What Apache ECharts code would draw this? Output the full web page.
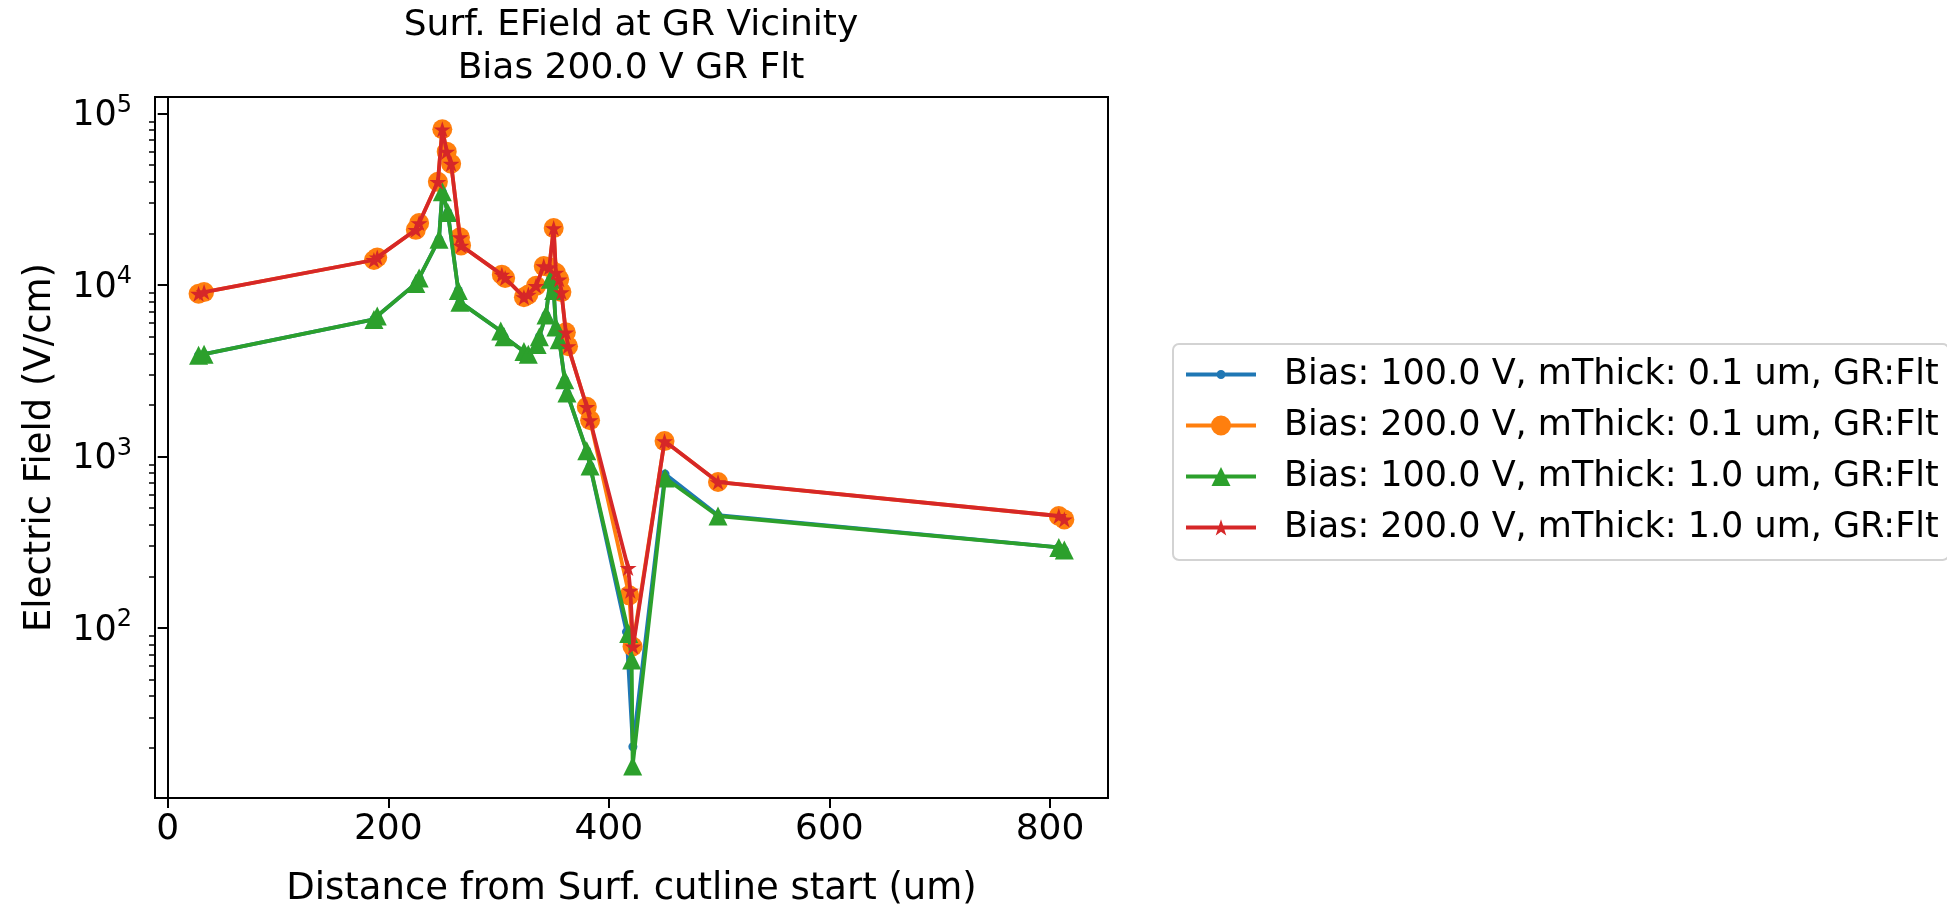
<!DOCTYPE html>
<html><head><meta charset="utf-8">
<script src="https://cdn.jsdelivr.net/npm/echarts@6/dist/echarts.min.js"></script>
<style>html,body{margin:0;padding:0;background:#fff}#c{width:1947px;height:913px}</style>
</head><body><div id="c"></div>
<script>
// ---------------- data ----------------
const titleText = 'Surf. EField at GR Vicinity\nBias 200.0 V GR Flt';
const xName = 'Distance from Surf. cutline start (um)';
const yName = 'Electric Field (V/cm)';
const seriesNames = [
  'Bias: 100.0 V, mThick: 0.1 um, GR:Flt',
  'Bias: 200.0 V, mThick: 0.1 um, GR:Flt',
  'Bias: 100.0 V, mThick: 1.0 um, GR:Flt',
  'Bias: 200.0 V, mThick: 1.0 um, GR:Flt'
];
const xTicks = [0, 200, 400, 600, 800];
const yMajorTicks = [100, 1000, 10000, 100000];
const yMinorTicks = [20,30,40,50,60,70,80,90,200,300,400,500,600,700,800,900,
  2000,3000,4000,5000,6000,7000,8000,9000,20000,30000,40000,50000,60000,70000,80000,90000];

const xBlue = [28, 33, 187, 190, 225, 228, 246, 249, 254, 263.5, 265, 302, 305, 323, 327, 335, 337, 343, 347, 350, 352, 355, 360, 362, 380, 383, 416, 421.8, 451, 499, 808, 813];
const yBlue = [3900, 3950, 6300, 6600, 10200, 11000, 18500, 35000, 26500, 9300, 7950, 5400, 5000, 4100, 3950, 4500, 5000, 6700, 10800, 9300, 5700, 4800, 2800, 2350, 1080, 880, 95, 20.3, 790, 455, 295, 285];

const xOrange = [28, 33, 187, 190, 225, 228, 245, 249, 253, 257, 265, 266, 303, 306, 323, 327, 334, 341, 346, 350, 352, 355, 357, 361, 363, 380, 383, 418.5, 421.5, 450.5, 499, 808, 813];
const yOrange = [8900, 9100, 14000, 14500, 21000, 23000, 40000, 81000, 60000, 51000, 19000, 17000, 11500, 11000, 8500, 8800, 9900, 12900, 12700, 21500, 11800, 10800, 9100, 5300, 4400, 1950, 1630, 155, 78, 1230, 710, 450, 430];

const xGreen = [28, 33, 187, 190, 225, 228, 246, 249, 254, 263.5, 265, 302, 305, 323, 327, 335, 337, 343, 347, 350, 352, 355, 360, 362, 380, 383, 418, 420.7, 421.6, 451, 499, 808, 813];
const yGreen = [3900, 3950, 6300, 6600, 10200, 11000, 18500, 35000, 26500, 9300, 7950, 5400, 5000, 4100, 3950, 4500, 5000, 6700, 10800, 9300, 5700, 4800, 2800, 2350, 1080, 880, 93, 65, 15.7, 750, 450, 295, 285];

const xRed = [28, 33, 187, 190, 225, 228, 245, 249, 253, 257, 265, 266, 303, 306, 323, 327, 334, 341, 346, 350, 352, 355, 357, 361, 363, 380, 383, 417.5, 419.5, 422, 450.5, 499, 808, 813];
const yRed = [8900, 9100, 14000, 14500, 21000, 23000, 40000, 81000, 60000, 51000, 19000, 17000, 11500, 11000, 8500, 8800, 9900, 12900, 12700, 21500, 11800, 10800, 9100, 5300, 4400, 1950, 1630, 224, 165, 78, 1230, 710, 450, 430];

// ---------------- styling ----------------
const FONT = 'DejaVu Sans';
const colors = ['#1f77b4', '#ff7f0e', '#2ca02c', '#d62728'];
const STAR = 'path://M100,0 L122.45,69.1 L195.11,69.1 L136.33,111.8 L158.78,180.9 L100,138.2 L41.22,180.9 L63.67,111.8 L4.89,69.1 L77.55,69.1 Z';
const symbols = ['circle', 'circle', 'triangle', STAR];
const symbolSizes = [9, 20, 19, [17, 16]];

// legend icons: line + marker in a 70x24 box
const anchors = ' M0,0 L0.01,0 L0,0.01 Z M70,24 L69.99,24 L70,23.99 Z';
const lineRect = 'M0,10 L70,10 L70,14 L0,14 Z ';
function starPath(cx, cy, R) {
  const r = R * 0.382; let d = '';
  for (let k = 0; k < 10; k++) {
    const a = (-90 + 36 * k) * Math.PI / 180;
    const rr = k % 2 === 0 ? R : r;
    d += (k === 0 ? 'M' : 'L') + (cx + rr * Math.cos(a)).toFixed(2) + ',' + (cy + rr * Math.sin(a)).toFixed(2) + ' ';
  }
  return d + 'Z';
}
const legendIcons = [
  'path://' + lineRect + 'M30.5,12 A4.5,4.5 0 1,1 39.5,12 A4.5,4.5 0 1,1 30.5,12 Z' + anchors,
  'path://' + lineRect + 'M25,12 A10,10 0 1,1 45,12 A10,10 0 1,1 25,12 Z' + anchors,
  'path://' + lineRect + 'M35,2.5 L44.5,21.5 L25.5,21.5 Z' + anchors,
  'path://' + lineRect + starPath(35, 12.8, 9) + anchors
];

const xs = [xBlue, xOrange, xGreen, xRed];
const ys = [yBlue, yOrange, yGreen, yRed];

const series = seriesNames.map((name, i) => ({
  type: 'line',
  name: name,
  data: xs[i].map((x, j) => [x, ys[i][j]]),
  color: colors[i],
  symbol: symbols[i],
  symbolSize: symbolSizes[i],
  showSymbol: true,
  lineStyle: { width: 3.8, color: colors[i] },
  itemStyle: { color: colors[i], borderWidth: 0 },
  z: 2 + i,
  yAxisIndex: 0,
  xAxisIndex: 0,
  animation: false,
  emphasis: { disabled: true },
  clip: false
}));

const chart = echarts.init(document.getElementById('c'), null, { renderer: 'canvas' });
chart.setOption({
  backgroundColor: '#ffffff',
  animation: false,
  title: {
    text: titleText,
    left: 631, top: 4, padding: 0,
    textAlign: 'center',
    textStyle: { fontFamily: FONT, fontSize: 36, fontWeight: 'normal', color: '#000', lineHeight: 43 }
  },
  grid: {
    left: 155, top: 97, width: 953, height: 711,
    show: true, borderColor: '#000', borderWidth: 2, backgroundColor: 'transparent'
  },
  legend: {
    orient: 'vertical',
    left: 1173, top: 344,
    padding: [13, 10, 15, 13],
    itemGap: 16,
    itemWidth: 70, itemHeight: 24,
    backgroundColor: '#fff',
    borderColor: '#d3d3d3', borderWidth: 2, borderRadius: 6,
    itemStyle: { borderWidth: 0 },
    textStyle: { fontFamily: FONT, fontSize: 35, color: '#000', padding: [0, 0, 0, 23] },
    data: seriesNames.map((n, i) => ({ name: n, icon: legendIcons[i] })),
    selectedMode: false
  },
  xAxis: {
    type: 'value',
    min: -11.5, max: 852.6,
    name: xName, nameLocation: 'middle', nameGap: 73,
    nameTextStyle: { fontFamily: FONT, fontSize: 37, color: '#000' },
    axisLine: { show: true, onZero: false, lineStyle: { color: '#000', width: 2 } },
    axisTick: { show: true, length: 10, lineStyle: { color: '#000', width: 2 }, customValues: xTicks },
    axisLabel: { fontFamily: FONT, fontSize: 36, color: '#000', margin: 14, customValues: xTicks },
    splitLine: { show: false }
  },
  yAxis: [{
    type: 'log', logBase: 10,
    min: 10.2, max: 124950,
    position: 'left',
    name: yName, nameLocation: 'middle', nameGap: 96,
    nameTextStyle: { fontFamily: FONT, fontSize: 37, color: '#000' },
    axisLine: { show: true, lineStyle: { color: '#000', width: 2 } },
    axisTick: { show: true, length: 10, lineStyle: { color: '#000', width: 2 }, customValues: yMajorTicks },
    axisLabel: {
      margin: 23, customValues: yMajorTicks,
      formatter: v => '{b|10}{s|' + Math.round(Math.log10(v)) + '}',
      rich: {
        b: { fontFamily: FONT, fontSize: 35, color: '#000', lineHeight: 40, verticalAlign: 'bottom' },
        s: { fontFamily: FONT, fontSize: 24, color: '#000', lineHeight: 28, verticalAlign: 'top' }
      }
    },
    splitLine: { show: false }
  }, {
    type: 'log', logBase: 10,
    min: 10.2, max: 124950,
    position: 'left', offset: 0,
    axisLine: { show: false },
    axisTick: { show: true, length: 6, lineStyle: { color: '#000', width: 1.5 }, customValues: yMinorTicks },
    axisLabel: { show: false },
    splitLine: { show: false }
  }],
  series: series
});
</script>
</body></html>
